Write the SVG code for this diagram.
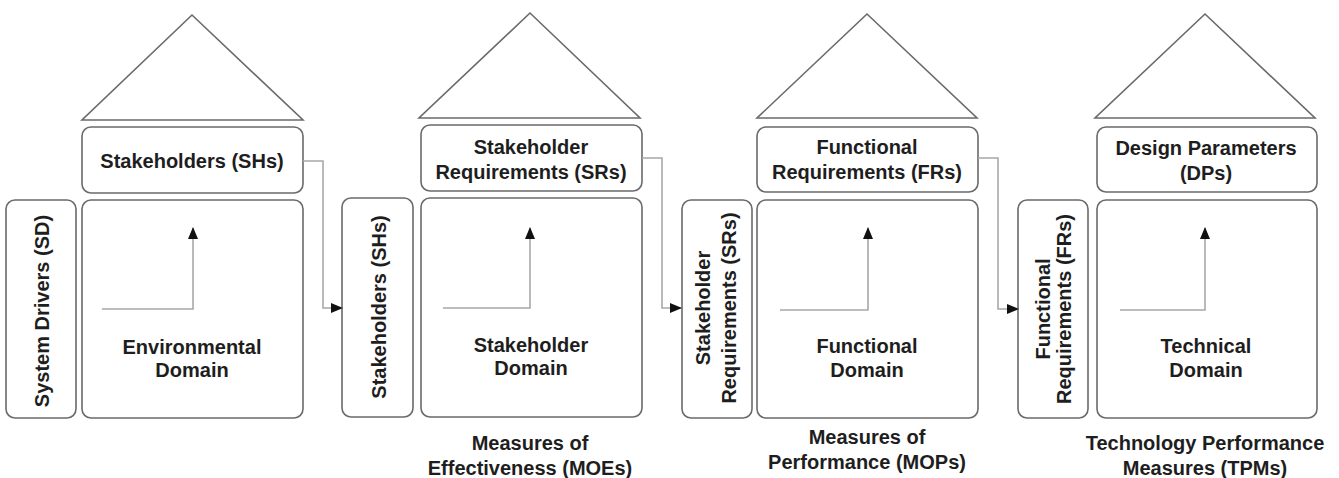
<svg xmlns="http://www.w3.org/2000/svg" width="1339" height="478" viewBox="0 0 1339 478">
<style>
.box{fill:#fff;stroke:#6a6a6a;stroke-width:1.6}
.roof{fill:#fff;stroke:#6a6a6a;stroke-width:1.6}
.t{font-family:"Liberation Sans",Arial,sans-serif;font-weight:bold;font-size:20px;fill:#1e1e1e;text-anchor:middle}
.con{fill:none;stroke:#a8a8a8;stroke-width:1.6}
.inner{fill:none;stroke:#a8a8a8;stroke-width:1.6}
</style>
<defs>
<marker id="ah" markerUnits="userSpaceOnUse" markerWidth="12" markerHeight="10" refX="11" refY="5" orient="auto">
<path d="M0,0 L12,5 L0,10 Z" fill="#111"/>
</marker>
</defs>
<rect width="1339" height="478" fill="#fff"/>

<g id="panel1">
<polygon class="roof" points="192,15 82,120 303,120"/>
<g id="sh-top"><rect class="box" x="82" y="127" width="221" height="66" rx="9"/>
<text class="t" x="192" y="168">Stakeholders (SHs)</text></g>
<g id="env-domain"><rect class="box" x="82" y="200" width="221" height="218" rx="9"/>
<path class="inner" d="M102 309 H193 V228" marker-end="url(#ah)"/>
<text class="t" x="192" y="354">Environmental</text>
<text class="t" x="192" y="377">Domain</text></g>
<g id="sd-side"><rect class="box" x="6" y="200" width="70" height="218" rx="9"/>
<text class="t" transform="translate(42,311) rotate(-90)" y="7">System Drivers (SD)</text></g>
</g>

<g id="panel2">
<polygon class="roof" points="530,13 419,118 640,118"/>
<g id="sr-top"><rect class="box" x="421" y="125" width="221" height="66" rx="9"/>
<text class="t" x="531" y="154">Stakeholder</text>
<text class="t" x="531" y="179">Requirements (SRs)</text></g>
<g id="sh-domain"><rect class="box" x="421" y="198" width="221" height="219" rx="9"/>
<path class="inner" d="M443 308 H530 V228" marker-end="url(#ah)"/>
<text class="t" x="531" y="352">Stakeholder</text>
<text class="t" x="531" y="375">Domain</text></g>
<g id="sh-side"><rect class="box" x="342" y="198" width="71" height="219" rx="9"/>
<text class="t" transform="translate(379,307) rotate(-90)" y="7">Stakeholders (SHs)</text></g>
<g id="moe"><text class="t" x="530" y="450">Measures of</text>
<text class="t" x="530" y="475">Effectiveness (MOEs)</text></g>
</g>

<g id="panel3">
<polygon class="roof" points="867,14 757,118 977,118"/>
<g id="fr-top"><rect class="box" x="757" y="127" width="221" height="65" rx="9"/>
<text class="t" x="867" y="154">Functional</text>
<text class="t" x="867" y="179">Requirements (FRs)</text></g>
<g id="func-domain"><rect class="box" x="757" y="200" width="221" height="218" rx="9"/>
<path class="inner" d="M780 310 H868 V228" marker-end="url(#ah)"/>
<text class="t" x="867" y="353">Functional</text>
<text class="t" x="867" y="377">Domain</text></g>
<g id="sr-side"><rect class="box" x="682" y="200" width="70" height="218" rx="9"/>
<text class="t" transform="translate(703,308) rotate(-90)" y="7">Stakeholder</text>
<text class="t" transform="translate(729,308) rotate(-90)" y="7">Requirements (SRs)</text></g>
<g id="mop"><text class="t" x="867" y="444">Measures of</text>
<text class="t" x="867" y="469">Performance (MOPs)</text></g>
</g>

<g id="panel4">
<polygon class="roof" points="1205,14 1095,118 1315,118"/>
<g id="dp-top"><rect class="box" x="1097" y="127" width="220" height="65" rx="9"/>
<text class="t" x="1206" y="155">Design Parameters</text>
<text class="t" x="1206" y="180">(DPs)</text></g>
<g id="tech-domain"><rect class="box" x="1097" y="200" width="220" height="218" rx="9"/>
<path class="inner" d="M1120 310 H1205 V228" marker-end="url(#ah)"/>
<text class="t" x="1206" y="353">Technical</text>
<text class="t" x="1206" y="377">Domain</text></g>
<g id="fr-side"><rect class="box" x="1018" y="200" width="70" height="218" rx="9"/>
<text class="t" transform="translate(1043,309) rotate(-90)" y="7">Functional</text>
<text class="t" transform="translate(1064,309) rotate(-90)" y="7">Requirements (FRs)</text></g>
<g id="tpm"><text class="t" x="1205" y="450">Technology Performance</text>
<text class="t" x="1205" y="475">Measures (TPMs)</text></g>
</g>

<g id="connectors">
<path class="con" d="M303 161 H323 V308 H342" marker-end="url(#ah)"/>
<path class="con" d="M642 158 H662 V308 H681" marker-end="url(#ah)"/>
<path class="con" d="M978 158 H998 V309 H1018" marker-end="url(#ah)"/>
</g>
</svg>
